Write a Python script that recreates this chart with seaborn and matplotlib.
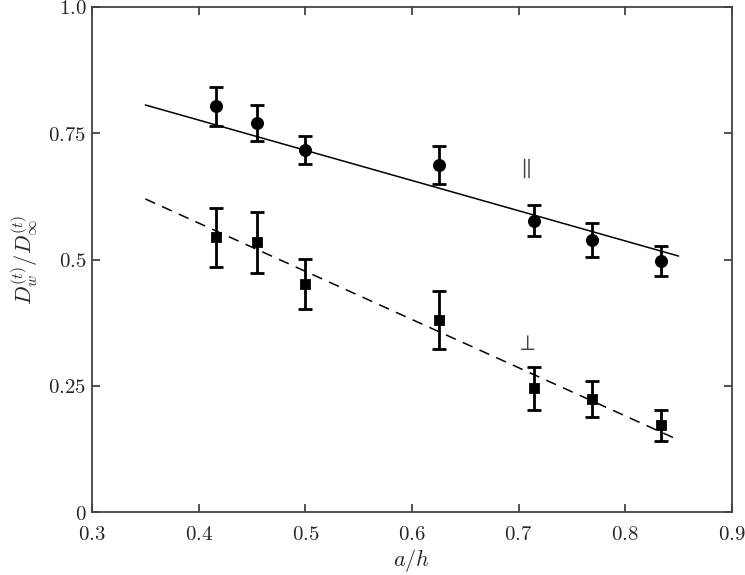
import numpy as np
import pandas as pd
import seaborn as sns
import matplotlib.pyplot as plt

# data
a_over_h = [0.4167, 0.4545, 0.5, 0.625, 0.7143, 0.7692, 0.8333]
par_val = [0.803, 0.770, 0.717, 0.687, 0.577, 0.539, 0.497]
par_err = [0.038, 0.035, 0.027, 0.037, 0.031, 0.033, 0.029]
perp_val = [0.544, 0.534, 0.452, 0.380, 0.245, 0.224, 0.172]
perp_err = [0.058, 0.061, 0.050, 0.057, 0.042, 0.035, 0.030]

# fitted lines
fit_x = [0.35, 0.85]
par_fit = [0.806, 0.507]
perp_fit = [0.620, 0.143]

x_ticks = [0.3, 0.4, 0.5, 0.6, 0.7, 0.8, 0.9]
y_ticks = [0, 0.25, 0.5, 0.75, 1.0]
y_ticklabels = ["0", "0.25", "0.5", "0.75", "1.0"]

sns.set_style("ticks")
plt.rcParams["mathtext.fontset"] = "cm"
plt.rcParams["font.family"] = ["DejaVu Serif"]

fig = plt.figure(figsize=(7.45, 5.75), dpi=100)
ax = fig.add_axes([0.1235, 0.109, 0.859, 0.879])

fits = pd.DataFrame({"x": fit_x, "par": par_fit, "perp": perp_fit})
sns.lineplot(data=fits, x="x", y="par", color="black", lw=1.1, ax=ax)
sns.lineplot(data=fits, x="x", y="perp", color="black", lw=1.1, ax=ax,
             dashes=False, linestyle=(0, (7, 5)))

ax.errorbar(a_over_h, par_val, yerr=par_err, fmt="none", ecolor="black",
            elinewidth=2, capsize=5, capthick=2)
ax.errorbar(a_over_h, perp_val, yerr=perp_err, fmt="none", ecolor="black",
            elinewidth=2, capsize=5, capthick=2)

pts = pd.DataFrame({"x": a_over_h, "par": par_val, "perp": perp_val})
sns.scatterplot(data=pts, x="x", y="par", marker="o", s=75, color="black",
                edgecolor="black", zorder=5, ax=ax)
sns.scatterplot(data=pts, x="x", y="perp", marker="s", s=50, color="black",
                edgecolor="black", zorder=5, ax=ax)

ax.text(0.705, 0.68, r"$\parallel$", fontsize=16, color="#444444",
        ha="center", va="center")
ax.text(0.707, 0.333, r"$\perp$", fontsize=16, color="#444444",
        ha="center", va="center")

ax.set_xlim(0.3, 0.9)
ax.set_ylim(0, 1.0)
ax.set_xticks(x_ticks)
ax.set_xticklabels([f"${t:.1f}$" for t in x_ticks], fontsize=15)
ax.set_yticks(y_ticks)
ax.set_yticklabels([f"${t}$" for t in y_ticklabels], fontsize=15)
ax.tick_params(direction="in", top=True, right=True, length=6, width=1.2,
               color="#333333", pad=4)
ax.tick_params(axis="x", pad=9)
for s in ax.spines.values():
    s.set_linewidth(1.3)
    s.set_color("#444444")

ax.set_xlabel(r"$a/h$", fontsize=16, labelpad=2)
ax.set_ylabel(r"$D_w^{(t)}/D_\infty^{(t)}$", fontsize=16, labelpad=6)

plt.savefig("out.png", dpi=100)
